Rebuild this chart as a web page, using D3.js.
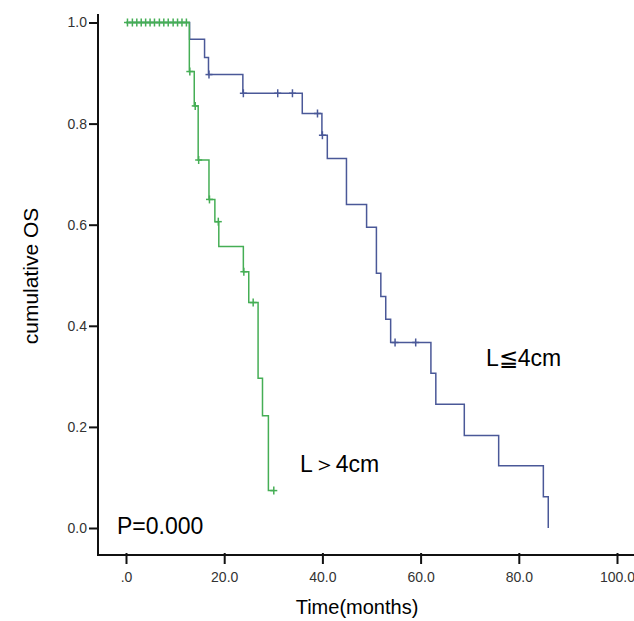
<!DOCTYPE html>
<html>
<head>
<meta charset="utf-8">
<script src="https://cdn.jsdelivr.net/npm/d3@7"></script>
<style>
  html, body { margin: 0; padding: 0; background: #fff; }
  svg { display: block; font-family: "Liberation Sans", Arial, sans-serif; }
</style>
</head>
<body>
<svg id="chart" width="634" height="621"></svg>
<script>
// ---- data ----
// Group L > 4cm (green)
const greenTimes = [0, 12.9, 13.9, 14.7, 16.9, 18.1, 18.9, 23.9, 25.0, 26.9, 27.8, 29.0];
const greenSurv  = [1.0, 0.903, 0.835, 0.728, 0.650, 0.606, 0.557, 0.507, 0.446, 0.296, 0.222, 0.074];
const greenEnd = 30.1;
const greenCensorTimes = [0.3, 1.3, 2.2, 3.1, 4.0, 4.9, 5.8, 6.8, 7.7, 8.6, 9.6, 10.5, 11.4, 12.3,
                          13.0, 14.1, 14.8, 17.0, 18.8, 24.0, 25.9, 30.1];
// Group L ≦ 4cm (blue)
const blueTimes = [0, 12.95, 16.0, 16.8, 23.8, 35.9, 39.9, 41.0, 44.9, 49.0, 51.0, 51.9, 52.9, 53.9, 62.1, 63.1, 68.9, 75.9, 85.0, 86.0];
const blueSurv  = [1.0, 0.967, 0.931, 0.897, 0.860, 0.820, 0.777, 0.731, 0.640, 0.595, 0.504, 0.458, 0.413, 0.367, 0.306, 0.245, 0.183, 0.123, 0.062, 0.0];
const blueEnd = 86.0;
const blueCensorTimes = [16.9, 23.9, 30.9, 33.9, 39.0, 40.0, 54.8, 59.0];

// axis ticks
const xTicks = [0, 20, 40, 60, 80, 100];
const yTicks = [0, 0.2, 0.4, 0.6, 0.8, 1.0];

// labels
const xTitle = "Time(months)";
const yTitle = "cumulative OS";
const labelBlue = "L≦4cm";
const labelGreen = "L＞4cm";
const pText = "P=0.000";

const colGreen = "#45ae55";
const colBlue = "#4a5898";

// ---- drawing ----
const svg = d3.select("#chart");
const x = d3.scaleLinear().domain([0, 100]).range([126, 617]);
const y = d3.scaleLinear().domain([0, 1]).range([528, 22.5]);
const axisX = 98, axisY = 555;

function stepSeries(times, surv, end) {
  const pts = times.map((t, i) => [t, surv[i]]);
  pts.push([end, surv[surv.length - 1]]);
  return pts;
}
function survAt(times, surv, t) {
  let s = surv[0];
  for (let i = 0; i < times.length; i++) if (times[i] <= t) s = surv[i];
  return s;
}

const line = d3.line().x(d => x(d[0])).y(d => y(d[1])).curve(d3.curveStepAfter);

function drawGroup(times, surv, end, censors, col) {
  const g = svg.append("g");
  g.append("path")
    .attr("d", line(stepSeries(times, surv, end)))
    .attr("fill", "none").attr("stroke", col).attr("stroke-width", 1.5);
  const c = g.selectAll("g.c").data(censors).enter().append("g")
    .attr("transform", d => `translate(${x(d)},${y(survAt(times, surv, d))})`);
  c.append("line").attr("x1", 0).attr("x2", 0).attr("y1", -4).attr("y2", 4)
    .attr("stroke", col).attr("stroke-width", 1.5);
  c.append("line").attr("x1", -3.5).attr("x2", 3.5).attr("y1", 0).attr("y2", 0)
    .attr("stroke", col).attr("stroke-width", 1.5);
}

drawGroup(blueTimes, blueSurv, blueEnd, blueCensorTimes, colBlue);
drawGroup(greenTimes, greenSurv, greenEnd, greenCensorTimes, colGreen);

// axes
const gx = svg.append("g").attr("transform", `translate(0,${axisY})`)
  .call(d3.axisBottom(x).tickValues(xTicks).tickSize(9).tickPadding(8)
    .tickFormat(d => d === 0 ? ".0" : d3.format(".1f")(d)));
const gy = svg.append("g").attr("transform", `translate(${axisX},0)`)
  .call(d3.axisLeft(y).tickValues(yTicks).tickSize(9).tickPadding(2)
    .tickFormat(d3.format(".1f")));
[gx, gy].forEach(g => {
  g.attr("font-size", null).attr("font-family", null);
  g.select(".domain").remove();
  g.selectAll(".tick line").attr("stroke", "#111").attr("stroke-width", 2);
  g.selectAll(".tick text").attr("fill", "#333").style("font-size", "14px")
    .style("font-family", "'Liberation Sans', Arial, sans-serif");
});
gx.selectAll(".tick line").attr("y1", -2);
svg.append("line").attr("x1", axisX).attr("x2", axisX).attr("y1", 14).attr("y2", axisY + 1)
  .attr("stroke", "#111").attr("stroke-width", 2);
svg.append("line").attr("x1", axisX - 1).attr("x2", 634).attr("y1", axisY).attr("y2", axisY)
  .attr("stroke", "#111").attr("stroke-width", 2);

// titles
svg.append("text").attr("x", 357).attr("y", 614).attr("text-anchor", "middle")
  .style("font-size", "20px").attr("fill", "#000").text(xTitle);
svg.append("text").attr("transform", "translate(38,276) rotate(-90)").attr("text-anchor", "middle")
  .style("font-size", "21px").attr("fill", "#000").text(yTitle);

// annotations
svg.append("text").attr("x", 486).attr("y", 366).style("font-size", "23px").attr("fill", "#000").text(labelBlue);
svg.append("text").attr("x", 300).attr("y", 472).style("font-size", "23px").attr("fill", "#000").text(labelGreen);
svg.append("text").attr("x", 117).attr("y", 534).style("font-size", "23px").attr("fill", "#000").text(pText);
</script>
</body>
</html>
